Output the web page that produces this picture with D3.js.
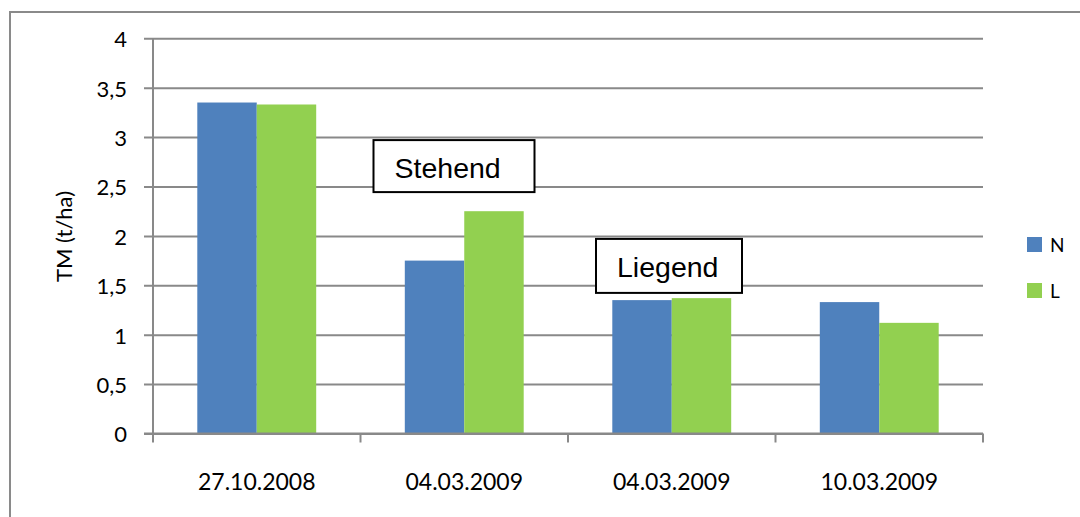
<!DOCTYPE html>
<html>
<head>
<meta charset="utf-8">
<script src="https://cdn.jsdelivr.net/npm/d3@7"></script>
<style>
  html, body { margin: 0; padding: 0; background: #fff; }
  svg { display: block; }
</style>
</head>
<body>
<svg id="chart" width="1080" height="517"></svg>
<script>
// Dry matter yield per sampling date, two treatments
const categories = ["27.10.2008", "04.03.2009", "04.03.2009", "10.03.2009"];
const seriesNames = ["N", "L"];
const valuesN = [3.35, 1.75, 1.35, 1.33];
const valuesL = [3.33, 2.25, 1.37, 1.12];
const yTicks = [0, 0.5, 1, 1.5, 2, 2.5, 3, 3.5, 4];
const yTitle = "TM (t/ha)";
const notes = [
  { text: "Stehend", cat: 1 },
  { text: "Liegend", cat: 2 }
];

const colors = { N: "#4F81BD", L: "#92D050" };
const gridColor = "#898989";
const labelFont = "Lato, 'Open Sans', sans-serif";

const svg = d3.select("#chart");

// outer frame (only top and left edges fall inside the view)
svg.append("rect")
  .attr("x", 10).attr("y", 12)
  .attr("width", 1200).attr("height", 600)
  .attr("fill", "none")
  .attr("stroke", "#8a8a8a")
  .attr("stroke-width", 2);

const plot = { left: 153, right: 983, top: 38.3, bottom: 433.5 };

const x = d3.scaleBand()
  .domain(d3.range(categories.length))
  .range([plot.left, plot.right])
  .padding(0);

const y = d3.scaleLinear()
  .domain([0, 4])
  .range([plot.bottom, plot.top]);

const groupFrac = 0.573;
const xs = d3.scaleBand()
  .domain(seriesNames)
  .range([(x.bandwidth() * (1 - groupFrac)) / 2, (x.bandwidth() * (1 + groupFrac)) / 2])
  .padding(0);

// horizontal gridlines + y ticks
const yAxis = d3.axisLeft(y)
  .tickValues(yTicks)
  .tickSize(plot.right - plot.left + 9)
  .tickFormat(d => d3.format("")(d).replace(".", ","));

const gy = svg.append("g")
  .attr("transform", `translate(${plot.right},0)`)
  .call(yAxis);
gy.select(".domain").remove();
gy.selectAll(".tick line")
  .attr("stroke", gridColor)
  .attr("stroke-width", 2);
gy.selectAll(".tick text")
  .attr("x", -(plot.right - plot.left) - 26)
  .attr("dy", "0.38em")
  .attr("fill", "#000")
  .style("font-family", labelFont)
  .style("font-size", "22px");

// vertical axis line
svg.append("line")
  .attr("x1", plot.left).attr("x2", plot.left)
  .attr("y1", y(4)).attr("y2", y(0))
  .attr("stroke", gridColor)
  .attr("stroke-width", 2);

// bars
const rows = categories.map((c, i) => ({ i, N: valuesN[i], L: valuesL[i] }));
const groups = svg.append("g").selectAll("g")
  .data(rows)
  .join("g")
  .attr("transform", d => `translate(${x(d.i)},0)`);

groups.selectAll("rect")
  .data(d => seriesNames.map(k => ({ k, v: d[k] })))
  .join("rect")
  .attr("x", d => xs(d.k))
  .attr("width", xs.bandwidth())
  .attr("y", d => y(d.v))
  .attr("height", d => y(0) - y(d.v))
  .attr("fill", d => colors[d.k]);

// x axis with category boundary ticks
const xAxisG = svg.append("g").attr("transform", `translate(0,${y(0)})`);
xAxisG.append("line")
  .attr("x1", plot.left - 9).attr("x2", plot.right)
  .attr("stroke", gridColor).attr("stroke-width", 2);
const bounds = d3.range(categories.length + 1).map(i =>
  i < categories.length ? x(i) : x(categories.length - 1) + x.bandwidth());
xAxisG.selectAll("line.tk")
  .data(bounds)
  .join("line")
  .attr("class", "tk")
  .attr("x1", d => d).attr("x2", d => d)
  .attr("y1", 0).attr("y2", 9)
  .attr("stroke", gridColor).attr("stroke-width", 2);
xAxisG.selectAll("text")
  .data(categories)
  .join("text")
  .attr("x", (d, i) => x(i) + x.bandwidth() / 2)
  .attr("y", 56)
  .attr("text-anchor", "middle")
  .style("font-family", labelFont)
  .style("font-size", "23px")
  .text(d => d);

// y axis title
svg.append("text")
  .attr("transform", `translate(72,236.5) rotate(-90)`)
  .attr("text-anchor", "middle")
  .style("font-family", labelFont)
  .style("font-size", "22px")
  .text(yTitle);

// annotation boxes (offset from the band start, top given in axis units)
const noteBox = [
  { off: 13, y0: 3.0, w: 161, h: 52 },
  { off: 28, y0: 2.0, w: 146, h: 54 }
];
notes.forEach((n, j) => {
  const b = noteBox[j];
  const bx = x(n.cat) + b.off;
  const by = y(b.y0) + 3;
  const g = svg.append("g");
  g.append("rect")
    .attr("x", bx).attr("y", by)
    .attr("width", b.w).attr("height", b.h)
    .attr("fill", "#fff")
    .attr("stroke", "#000")
    .attr("stroke-width", 2);
  g.append("text")
    .attr("x", bx + 21)
    .attr("y", by + 38)
    .style("font-family", "'Liberation Sans', Arial, sans-serif")
    .style("font-size", "28.5px")
    .text(n.text);
});

// legend
const legend = svg.append("g").selectAll("g")
  .data(seriesNames)
  .join("g")
  .attr("transform", (d, i) => `translate(1027,${237 + i * 46})`);
legend.append("rect")
  .attr("width", 15).attr("height", 15)
  .attr("fill", d => colors[d]);
legend.append("text")
  .attr("x", 23).attr("y", 15)
  .style("font-family", labelFont)
  .style("font-size", "19px")
  .text(d => d);
</script>
</body>
</html>
